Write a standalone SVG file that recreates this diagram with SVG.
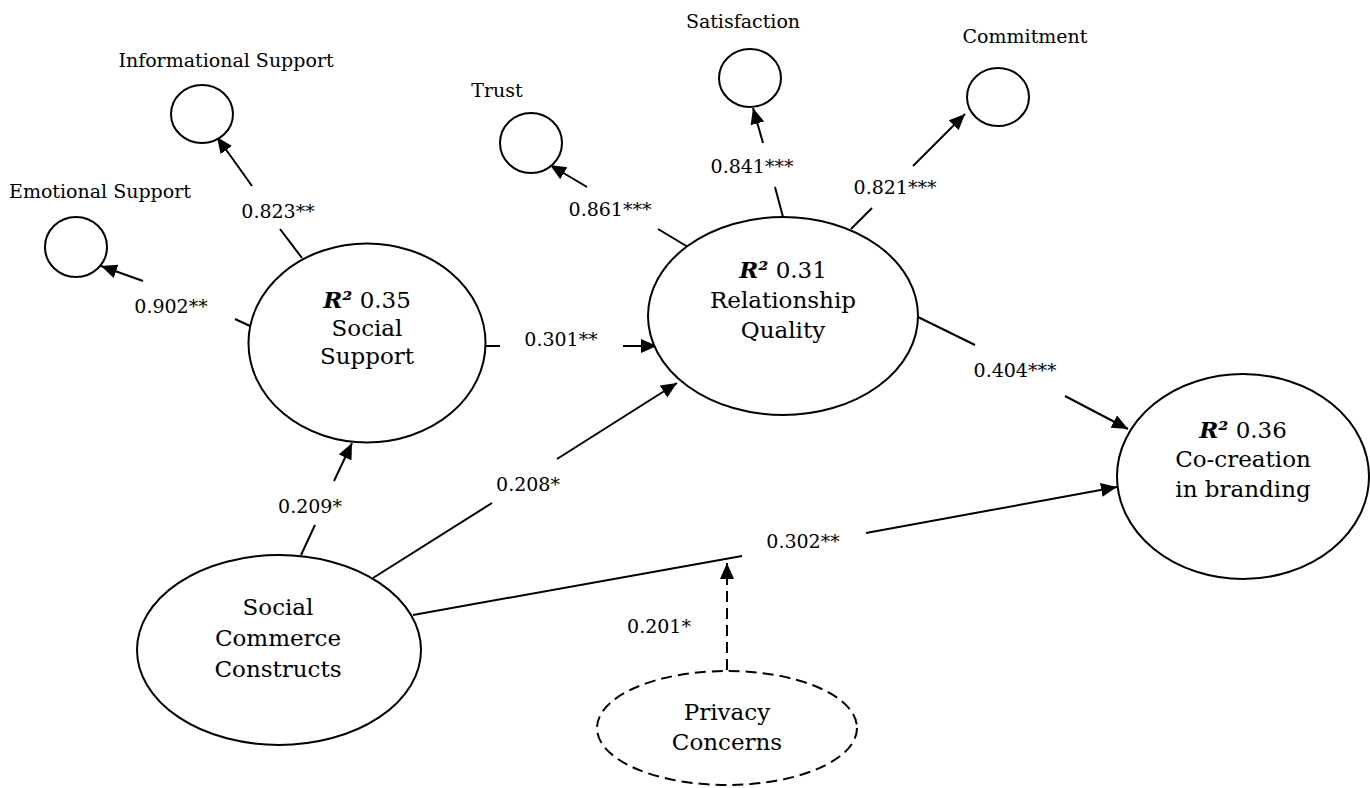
<svg xmlns="http://www.w3.org/2000/svg" width="1370" height="788" viewBox="0 0 1370 788">
<style>
  .bg { fill: #ffffff; }
  .node { fill: #ffffff; stroke: #000000; stroke-width: 2; }
  .dash { stroke-dasharray: 11 6; }
  .conn { stroke: #000000; stroke-width: 2; fill: none; }
  .lbl { font-family: "DejaVu Serif", "Liberation Serif", serif; font-size: 19px; fill: #000000; text-anchor: middle; }
  .big { font-family: "DejaVu Serif", "Liberation Serif", serif; font-size: 23px; fill: #000000; text-anchor: middle; }
  .bi { font-weight: bold; font-style: italic; }
</style>
<defs>
  <marker id="ah" markerUnits="userSpaceOnUse" markerWidth="18" markerHeight="16" refX="16" refY="7" orient="auto">
    <path d="M0,0 L16,7 L0,14 z" fill="#000000"/>
  </marker>
</defs>
<rect class="bg" x="0" y="0" width="1370" height="788"/>

<g id="connectors">
  <line class="conn" x1="302" y1="258" x2="280" y2="229"/>
  <line class="conn" x1="252" y1="186" x2="217" y2="137" marker-end="url(#ah)"/>
  <line class="conn" x1="250" y1="326" x2="235" y2="319"/>
  <line class="conn" x1="143" y1="281" x2="101" y2="266" marker-end="url(#ah)"/>
  <line class="conn" x1="688" y1="247" x2="658" y2="229"/>
  <line class="conn" x1="587" y1="187" x2="550" y2="165" marker-end="url(#ah)"/>
  <line class="conn" x1="783" y1="217" x2="775" y2="187"/>
  <line class="conn" x1="763" y1="143" x2="753" y2="108" marker-end="url(#ah)"/>
  <line class="conn" x1="851" y1="229" x2="872" y2="208"/>
  <line class="conn" x1="913" y1="166" x2="965" y2="114" marker-end="url(#ah)"/>
  <line class="conn" x1="485" y1="346" x2="500" y2="346"/>
  <line class="conn" x1="623" y1="346" x2="657" y2="346" marker-end="url(#ah)"/>
  <line class="conn" x1="918" y1="317" x2="975" y2="345"/>
  <line class="conn" x1="1065" y1="396" x2="1128" y2="429" marker-end="url(#ah)"/>
  <line class="conn" x1="301" y1="555" x2="315" y2="525"/>
  <line class="conn" x1="334" y1="481" x2="352" y2="443" marker-end="url(#ah)"/>
  <line class="conn" x1="373" y1="578" x2="492" y2="503"/>
  <line class="conn" x1="557" y1="459" x2="677" y2="383" marker-end="url(#ah)"/>
  <line class="conn" x1="413" y1="615" x2="742" y2="556"/>
  <line class="conn" x1="866" y1="533" x2="1117" y2="487" marker-end="url(#ah)"/>
  <line class="conn dash" x1="727" y1="670" x2="727" y2="563" marker-end="url(#ah)"/>

  <text class="lbl" x="278" y="218">0.823**</text>
  <text class="lbl" x="171" y="313">0.902**</text>
  <text class="lbl" x="610" y="216">0.861***</text>
  <text class="lbl" x="752" y="173">0.841***</text>
  <text class="lbl" x="895" y="194">0.821***</text>
  <text class="lbl" x="561" y="346">0.301**</text>
  <text class="lbl" x="1015" y="377">0.404***</text>
  <text class="lbl" x="310" y="513">0.209*</text>
  <text class="lbl" x="528" y="491">0.208*</text>
  <text class="lbl" x="803" y="548">0.302**</text>
  <text class="lbl" x="659" y="633">0.201*</text>
</g>

<g id="emotional-support">
  <ellipse class="node" cx="76" cy="247" rx="31" ry="30"/>
  <text class="lbl" x="100" y="198">Emotional Support</text>
</g>
<g id="informational-support">
  <ellipse class="node" cx="202" cy="114" rx="31" ry="29"/>
  <text class="lbl" x="226" y="67">Informational Support</text>
</g>
<g id="trust">
  <ellipse class="node" cx="531" cy="143" rx="31" ry="30"/>
  <text class="lbl" x="497" y="97">Trust</text>
</g>
<g id="satisfaction">
  <ellipse class="node" cx="750" cy="78" rx="31" ry="29"/>
  <text class="lbl" x="743" y="28">Satisfaction</text>
</g>
<g id="commitment">
  <ellipse class="node" cx="998" cy="97" rx="31" ry="29"/>
  <text class="lbl" x="1025" y="43">Commitment</text>
</g>
<g id="social-support">
  <ellipse class="node" cx="367" cy="343" rx="118.5" ry="99.5"/>
  <text class="big" x="367" y="308"><tspan class="bi">R²</tspan> 0.35</text>
  <text class="big" x="367" y="336">Social</text>
  <text class="big" x="367" y="364">Support</text>
</g>
<g id="relationship-quality">
  <ellipse class="node" cx="783" cy="316" rx="135" ry="99"/>
  <text class="big" x="783" y="278"><tspan class="bi">R²</tspan> 0.31</text>
  <text class="big" x="783" y="308">Relationship</text>
  <text class="big" x="783" y="338">Quality</text>
</g>
<g id="co-creation">
  <ellipse class="node" cx="1243" cy="476.5" rx="126" ry="102.5"/>
  <text class="big" x="1243" y="438"><tspan class="bi">R²</tspan> 0.36</text>
  <text class="big" x="1243" y="467">Co-creation</text>
  <text class="big" x="1243" y="497">in branding</text>
</g>
<g id="social-commerce-constructs">
  <ellipse class="node" cx="279" cy="650" rx="142" ry="95"/>
  <text class="big" x="278" y="615">Social</text>
  <text class="big" x="278" y="646">Commerce</text>
  <text class="big" x="278" y="677">Constructs</text>
</g>
<g id="privacy-concerns">
  <ellipse class="node dash" cx="727" cy="728" rx="130" ry="57"/>
  <text class="big" x="727" y="720">Privacy</text>
  <text class="big" x="727" y="750">Concerns</text>
</g>
</svg>
